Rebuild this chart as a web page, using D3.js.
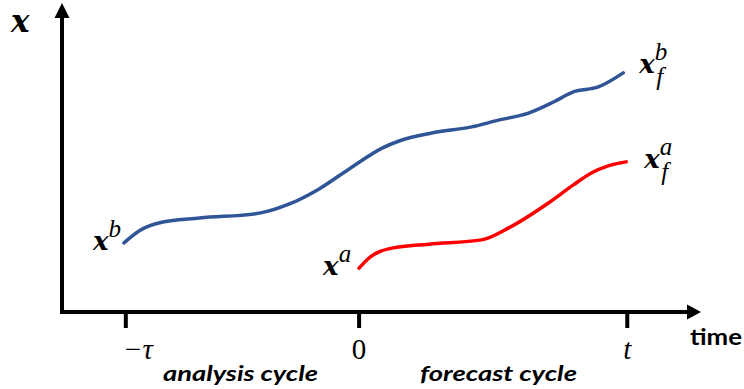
<!DOCTYPE html>
<html>
<head>
<meta charset="utf-8">
<script src="https://cdn.jsdelivr.net/npm/d3@7"></script>
<style>
  body { margin: 0; background: #fff; }
  .sym { font-family: "DejaVu Serif", serif; font-weight: bold; font-style: italic; }
  .idx { font-family: "Liberation Serif", serif; font-style: italic; }
  .tick-lbl { font-family: "Liberation Serif", "DejaVu Serif", serif; }
  .cap { font-family: Lato, "Open Sans", sans-serif; font-weight: bold; }
</style>
</head>
<body>
<div id="chart"></div>
<script>
// background trajectory (blue), time in units of t, state in arbitrary units
var bgTime  = [-0.877, -0.821, -0.747, -0.595, -0.372, -0.26, -0.149, -0.037, 0.086, 0.149, 0.271, 0.42, 0.52, 0.632, 0.725, 0.799, 0.892, 0.985];
var bgState = [22.5, 26.4, 29.0, 30.6, 32.2, 35.2, 40.1, 46.6, 53.4, 55.7, 58.3, 60.3, 62.5, 64.8, 68.4, 71.7, 73.3, 77.9];

// analysis trajectory (red)
var anTime  = [0, 0.037, 0.123, 0.26, 0.457, 0.558, 0.706, 0.799, 0.866, 0.929, 0.996];
var anState = [14.3, 17.6, 20.8, 22.1, 23.5, 27.4, 35.5, 41.4, 45.3, 47.6, 48.9];

// tick marks on the time axis
var tickValues = [-0.87, 0, 1];
var tickLabels = ["\u2212\u03c4", "0", "t"];

var width = 744, height = 389;

var svg = d3.select("#chart").append("svg")
    .attr("width", width)
    .attr("height", height);

//scales - 0 sits at 360px, t at 629px
var x = d3.scaleLinear().domain([-1.108, 1.275]).range([62, 701]);
var y = d3.scaleLinear().domain([0, 100]).range([312, 5]);

var line = d3.line()
    .x(function (d) { return x(d[0]); })
    .y(function (d) { return y(d[1]); })
    .curve(d3.curveMonotoneX);

var bg = d3.zip(bgTime, bgState),
    an = d3.zip(anTime, anState);

svg.append("path")
    .datum(bg)
    .attr("d", line)
    .attr("fill", "none")
    .attr("stroke", "#2f5597")
    .attr("stroke-width", 3.5)
    .attr("stroke-linecap", "round");

svg.append("path")
    .datum(an)
    .attr("d", line)
    .attr("fill", "none")
    .attr("stroke", "#ff0000")
    .attr("stroke-width", 3.5)
    .attr("stroke-linecap", "round");

//axes with arrow heads
var x0 = x.range()[0], xEnd = x.range()[1],
    y0 = y.range()[0];

svg.append("path")
    .attr("d", "M" + x0 + ",17V" + y0 + "H688")
    .attr("fill", "none")
    .attr("stroke", "#000")
    .attr("stroke-width", 4)
    .attr("stroke-linejoin", "miter");

svg.append("path") // y arrow
    .attr("d", "M" + x0 + ",3L" + (x0 + 7.5) + ",18L" + (x0 - 7.5) + ",18Z")
    .attr("fill", "#000");

svg.append("path") // x arrow
    .attr("d", "M" + xEnd + "," + y0 + "L" + (xEnd - 14) + "," + (y0 - 7.5) + "L" + (xEnd - 14) + "," + (y0 + 7.5) + "Z")
    .attr("fill", "#000");

//ticks
svg.selectAll(".tk")
    .data(tickValues)
    .enter().append("line")
    .attr("class", "tk")
    .attr("x1", function (d) { return x(d); })
    .attr("x2", function (d) { return x(d); })
    .attr("y1", y0)
    .attr("y2", y0 + 16)
    .attr("stroke", "#000")
    .attr("stroke-width", 4);

svg.selectAll(".tick-lbl")
    .data(tickValues)
    .enter().append("text")
    .attr("class", "tick-lbl")
    .attr("x", function (d, i) { return x(d) + (i === 0 ? 12 : 0); })
    .attr("y", y0 + 47)
    .attr("text-anchor", "middle")
    .attr("font-size", 29)
    .attr("font-style", function (d, i) { return i === 1 ? "normal" : "italic"; })
    .text(function (d, i) { return tickLabels[i]; });

svg.append("text")
    .attr("class", "cap")
    .attr("x", 690).attr("y", 345)
    .attr("font-size", 23)
    .attr("textLength", 52).attr("lengthAdjust", "spacingAndGlyphs")
    .text("time");

svg.append("text")
    .attr("class", "cap")
    .attr("x", 163).attr("y", 381)
    .attr("font-size", 21).attr("font-style", "italic")
    .attr("textLength", 155).attr("lengthAdjust", "spacingAndGlyphs")
    .text("analysis cycle");

svg.append("text")
    .attr("class", "cap")
    .attr("x", 420).attr("y", 381)
    .attr("font-size", 21).attr("font-style", "italic")
    .attr("textLength", 157).attr("lengthAdjust", "spacingAndGlyphs")
    .text("forecast cycle");

//symbol labels
svg.append("text")
    .attr("class", "sym")
    .attr("x", 11).attr("y", 32)
    .attr("font-size", 31)
    .text("x");

// x with superscript, and an optional subscript as a separate text below it
function symLabel(px, py, sup, sub) {
    var t = svg.append("text").attr("class", "sym").attr("x", px).attr("y", py);
    t.append("tspan").attr("font-size", 26).text("x");
    t.append("tspan").attr("class", "idx").style("font-weight", "normal").attr("font-size", 25)
        .attr("dy", -13).text(sup);
    if (sub) {
        svg.append("text").attr("class", "idx")
            .attr("x", px + 17).attr("y", py + 12)
            .attr("font-size", 25).text(sub);
    }
}

var bgStart = bg[0], bgEnd = bg[bg.length - 1],
    anStart = an[0], anEnd = an[an.length - 1];

symLabel(x(bgStart[0]) - 31, y(bgStart[1]) + 7, "b");
symLabel(x(anStart[0]) - 36, y(anStart[1]) + 7, "a");
symLabel(x(bgEnd[0]) + 16, y(bgEnd[1]) + 0, "b", "f");
symLabel(x(anEnd[0]) + 18, y(anEnd[1]) + 6, "a", "f");
</script>
</body>
</html>
